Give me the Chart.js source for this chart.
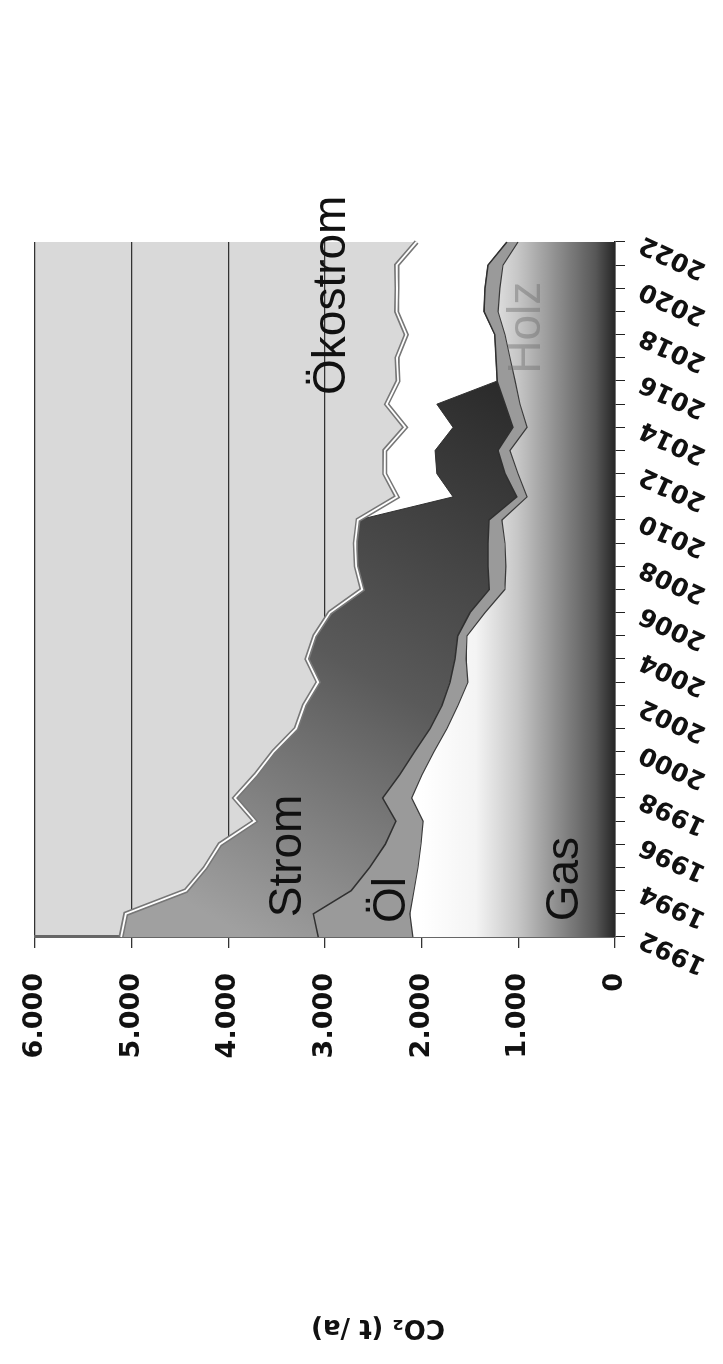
<!DOCTYPE html>
<html>
<head>
<meta charset="utf-8">
<script src="https://cdn.jsdelivr.net/npm/chart.js@4.4.1/dist/chart.umd.min.js"></script>
<style>
  html, body { margin: 0; padding: 0; background: #fff; overflow: hidden; }
  /* chart is drawn landscape, then turned a quarter to the left like the scan */
  #wrap {
    position: absolute; left: 0; top: 0;
    width: 1364px; height: 723px;
    transform-origin: 0 0;
    transform: translate(0, 1364px) rotate(-90deg);
  }
</style>
</head>
<body>
<div id="wrap"><canvas id="co2Chart" width="1364" height="723"></canvas></div>
<script>
// CO2 per energy source, t/a
const years = ["1992", "1993", "1994", "1995", "1996", "1997", "1998", "1999", "2000", "2001",
  "2002", "2003", "2004", "2005", "2006", "2007", "2008", "2009", "2010", "2011",
  "2012", "2013", "2014", "2015", "2016", "2017", "2018", "2019", "2020", "2021", "2022"];

const gas = [2090, 2121, 2079, 2038, 2007, 1986, 2103, 1997, 1872, 1738,
  1624, 1521, 1541, 1531, 1345, 1140, 1128, 1138, 1169, 910,
  1003, 1086, 910, 983, 1034, 1086, 1138, 1210, 1190, 1159, 1003];

const oel = [980, 1000, 650, 500, 370, 280, 300, 230, 200, 175,
  165, 185, 115, 95, 155, 160, 185, 175, 135, 105,
  135, 125, 145, 155, 185, 145, 105, 145, 155, 155, 115];

const strom = [2040, 1940, 1710, 1700, 1710, 1460, 1530, 1490, 1460, 1385,
  1425, 1365, 1530, 1480, 1450, 1315, 1365, 1375, 1355, 660,
  705, 650, 620, 705, 0, 0, 0, 0, 0, 0, 0];

const oekostrom = [0, 0, 0, 0, 0, 0, 0, 0, 0, 0,
  0, 0, 0, 0, 0, 0, 0, 0, 0, 580,
  540, 520, 495, 520, 1025, 1025, 915, 905, 910, 945, 935];

const valueTicks = [0, 1000, 2000, 3000, 4000, 5000, 6000];

const total = years.map((y, i) => gas[i] + oel[i] + strom[i] + oekostrom[i]);

const FONT = "'Liberation Sans', Arial, sans-serif";
const AXIS_FONT = "'DejaVu Sans', Verdana, sans-serif";

// labels written into the areas (year, value)
const areaLabels = [
  { text: "Strom", year: 1995.5, value: 3380 },
  { text: "Öl", year: 1993.6, value: 2300 },
  { text: "Gas", year: 1994.5, value: 510 },
  { text: "Ökostrom", year: 2019.7, value: 2920 },
  { text: "Holz", year: 2018.3, value: 910, color: "rgba(110,110,110,0.45)" },
];

function gasFill(context) {
  const chart = context.chart;
  const { ctx, chartArea, scales } = chart;
  if (!chartArea) return "#bbb";
  const g = ctx.createLinearGradient(0, scales.y.getPixelForValue(0), 0, scales.y.getPixelForValue(2000));
  g.addColorStop(0, "#262626");
  g.addColorStop(0.1, "#575757");
  g.addColorStop(0.3, "#8e8e8e");
  g.addColorStop(0.5, "#c6c6c6");
  g.addColorStop(0.72, "#f4f4f4");
  g.addColorStop(1, "#ffffff");
  return g;
}

function stromFill(context) {
  const chart = context.chart;
  const { ctx, chartArea, scales } = chart;
  if (!chartArea) return "#666";
  const g = ctx.createLinearGradient(
    scales.x.getPixelForValue(0), scales.y.getPixelForValue(3800),
    scales.x.getPixelForValue(24), scales.y.getPixelForValue(600));
  g.addColorStop(0, "#a0a0a0");
  g.addColorStop(0.45, "#5a5a5a");
  g.addColorStop(1, "#262626");
  return g;
}

const plotBackground = {
  id: "plotBackground",
  beforeDraw(chart) {
    const { ctx, chartArea: a } = chart;
    ctx.save();
    ctx.fillStyle = "#d9d9d9";
    ctx.fillRect(a.left, a.top, a.right - a.left, a.bottom - a.top);
    ctx.restore();
  }
};

const textLayer = {
  id: "textLayer",
  afterDraw(chart) {
    const { ctx, scales } = chart;
    ctx.save();
    ctx.textAlign = "center";
    ctx.textBaseline = "middle";
    ctx.font = "46px " + FONT;
    areaLabels.forEach(l => {
      ctx.fillStyle = l.color || "#111";
      ctx.fillText(l.text, scales.x.getPixelForValue(l.year - 1992), scales.y.getPixelForValue(l.value));
    });
    // axis title, placed a bit below the middle like in the scan
    ctx.translate(37, 378);
    ctx.rotate(-Math.PI / 2);
    ctx.font = "bold 26px " + AXIS_FONT;
    ctx.fillStyle = "#111";
    ctx.fillText("CO\u2082 (t /a)", 0, 0);
    ctx.restore();
  }
};

const co2Data = {
  labels: years,
  datasets: [
    {
      label: "Gas",
      data: gas,
      backgroundColor: gasFill,
      borderColor: "#3a3a3a",
      borderWidth: 1.2,
      fill: "origin",
    },
    {
      label: "Öl",
      data: oel,
      backgroundColor: "#9a9a9a",
      borderColor: "#303030",
      borderWidth: 1.5,
      fill: "-1",
    },
    {
      label: "Strom",
      data: strom,
      backgroundColor: stromFill,
      borderColor: "#333",
      borderWidth: 1,
      fill: "-1",
    },
    {
      label: "Ökostrom",
      data: oekostrom,
      backgroundColor: "#ffffff",
      borderWidth: 0,
      fill: "-1",
    },
    {
      label: "edge",
      data: total,
      stack: "edge1",
      order: -1,
      borderColor: "#777",
      borderWidth: 5,
      fill: false,
    },
    {
      label: "edge2",
      data: total,
      stack: "edge2",
      order: -2,
      borderColor: "#ffffff",
      borderWidth: 1.8,
      fill: false,
    },
  ],
};

const co2Config = {
  type: "line",
  data: co2Data,
  options: {
    responsive: false,
    animation: false,
    events: [],
    elements: { point: { radius: 0 }, line: { tension: 0 } },
    layout: { padding: { top: 35, right: 242, left: 0, bottom: 0 } },
    plugins: { legend: { display: false }, tooltip: { enabled: false } },
    scales: {
      x: {
        type: "category",
        offset: false,
        afterFit: s => { s.height = 108; },
        grid: { drawOnChartArea: false, drawTicks: true, tickLength: 10, color: "#222" },
        border: { display: true, color: "#222", width: 1.5 },
        ticks: {
          autoSkip: false,
          minRotation: 65,
          maxRotation: 65,
          padding: 10,
          color: "#111",
          font: { family: AXIS_FONT, size: 25, weight: "bold" },
          callback: function (value, index) {
            return index % 2 === 0 ? this.getLabelForValue(value) : "";
          },
        },
      },
      y: {
        stacked: true,
        min: 0,
        max: 6000,
        afterFit: s => { s.width = 427; },
        afterBuildTicks: s => { s.ticks = valueTicks.map(v => ({ value: v })); },
        grid: { color: "#333", lineWidth: 1.3, tickLength: 11 },
        border: { display: true, color: "#666", width: 3 },
        ticks: {
          padding: 25,
          color: "#111",
          font: { family: AXIS_FONT, size: 27, weight: "bold", lineHeight: 0.7 },
          callback: v => String(v).replace(/\B(?=(\d{3})+(?!\d))/g, "."),
        },
      },
    },
  },
  plugins: [plotBackground, textLayer],
};

const co2Chart = new Chart(document.getElementById("co2Chart"), co2Config);
</script>
</body>
</html>
